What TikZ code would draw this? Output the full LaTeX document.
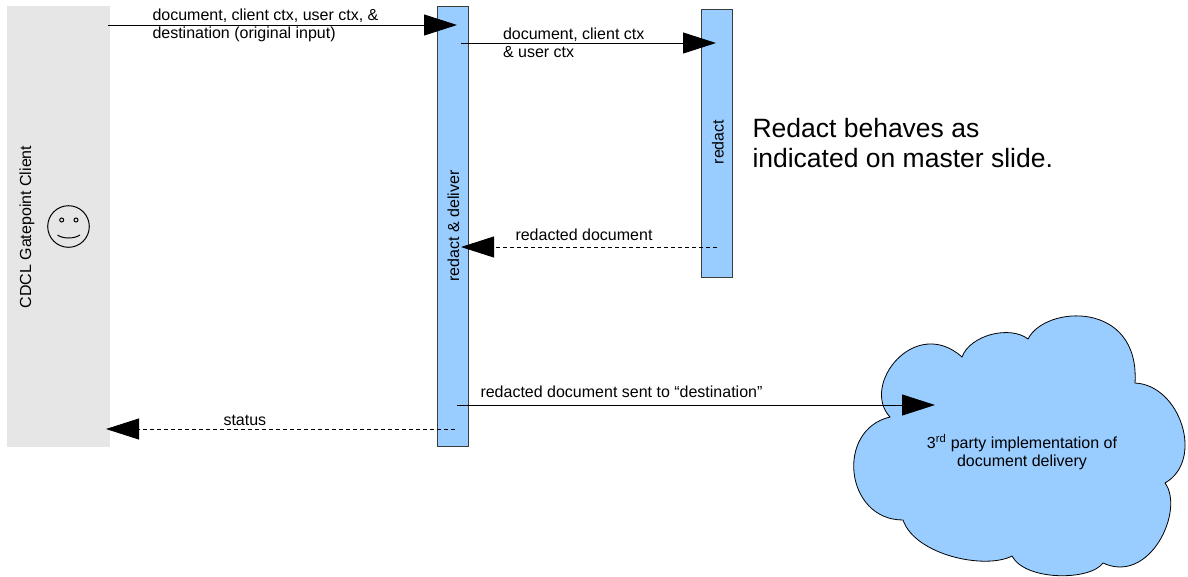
\documentclass[tikz,border=0pt]{standalone}
\usepackage{fontspec}
\setmainfont{Liberation Sans}
\usetikzlibrary{arrows.meta}
\definecolor{barblue}{HTML}{99CCFF}
\definecolor{clientgray}{HTML}{E6E6E6}
\definecolor{barline}{HTML}{3C3C3C}
\tikzset{every picture/.style={line width=1pt}}
\tikzset{
	bar/.style={draw=barline,fill=barblue,line width=0.8pt,minimum width=31pt,inner sep=0pt},
	lbl/.style={font=\fontsize{16}{17.5}\selectfont,inner sep=0pt,align=left},
	msg/.style={->},
	reply/.style={->,dash pattern=on 4pt off 3pt,line width=0.8pt}
}

\begin{document}
\begin{tikzpicture}[x=1pt,y=-1pt,>={Triangle[length=33pt,width=21pt]}]
	\useasboundingbox (0,0) rectangle (1188,576);
	%Client
	\node[fill=clientgray,minimum width=103pt,minimum height=441pt,inner sep=0pt] (client) at (58.5,226.5) {};
	\node[lbl,rotate=90] (clientlbl) at (27,227) {CDCL Gatepoint Client};
	\node[draw,circle,minimum size=41.6pt,inner sep=0pt] (smiley) at (68.5,226.5) {};
	\draw (61.7,220) circle (2pt) (76,220) circle (2pt);
	\draw (57.5,235) .. controls (63,239) and (74,239) .. (80,235);
	%Bar 1,2
	\node[bar,minimum height=440pt] (rd) at (453,226) {};
	\node[lbl,rotate=90] (rdlbl) at (453.5,226) {redact \& deliver};
	\node[bar,minimum height=268pt] (rdt) at (717,143) {};
	\node[lbl,rotate=90] (rdtlbl) at (718,142) {redact};
	%Note
	\node[font=\fontsize{26.5}{30}\selectfont,inner sep=0pt,align=left,anchor=base west] (note) at (752,167) {Redact behaves as\\indicated on master slide.};
	%Cloud
	\draw[fill=barblue,line width=0.8pt] (890,417)
		.. controls (860,385) and (915,315) .. (962,357)
		.. controls (970,335) and (1010,325) .. (1028,339)
		.. controls (1045,305) and (1140,300) .. (1135,383)
		.. controls (1180,385) and (1205,460) .. (1165,483)
		.. controls (1185,510) and (1150,585) .. (1103,563)
		.. controls (1090,581) and (1025,581) .. (1012,556)
		.. controls (985,570) and (915,555) .. (903,520)
		.. controls (845,520) and (835,430) .. cycle;
	\node[lbl,align=center] (cloudlbl) at (1022,452) {3\textsuperscript{rd} party implementation of\\document delivery};
	%Points on the bars
	\coordinate (c1) at (108,25);   \coordinate (rd1) at (457,25);
	\coordinate (rd2) at (461,43);  \coordinate (rdt2) at (716,43);
	\coordinate (rdt3) at (717,247); \coordinate (rd3) at (461,247);
	\coordinate (rd4) at (457,405); \coordinate (cl4) at (935,405);
	\coordinate (rd5) at (455,429); \coordinate (c5) at (106,429);
	%Arrows
	\draw[msg] (c1) -- (rd1);
	\draw[msg] (rd2) -- (rdt2);
	\draw[reply] (rdt3) -- (rd3);
	\draw[msg] (rd4) -- (cl4);
	\draw[reply] (rd5) -- (c5);
	%Labels
	\node[lbl,anchor=base west] (m1) at (152,38) {document, client ctx, user ctx, \&\\destination (original input)};
	\node[lbl,anchor=base west] (m2) at (502.5,57) {document, client ctx\\\& user ctx};
	\node[lbl,anchor=base west] (m3) at (515,240) {redacted document};
	\node[lbl,anchor=base west] (m4) at (480,397) {redacted document sent to “destination”};
	\node[lbl,anchor=base west] (m5) at (223,425) {status};
\end{tikzpicture}
\end{document}
